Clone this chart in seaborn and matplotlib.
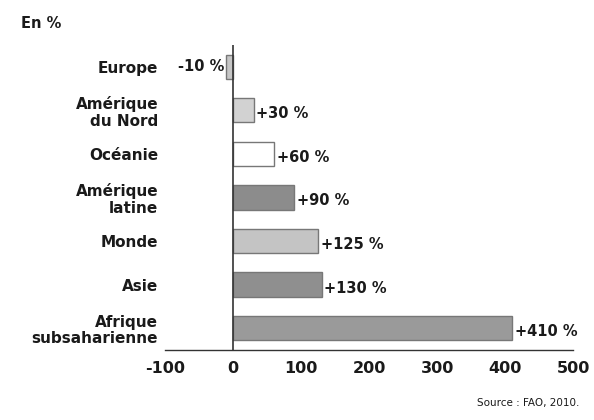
import numpy as np
import pandas as pd
import matplotlib
matplotlib.use("Agg")
import matplotlib.pyplot as plt
import seaborn as sns

regions = ["Europe", "Amérique\ndu Nord", "Océanie", "Amérique\nlatine",
           "Monde", "Asie", "Afrique\nsubsaharienne"]
values = [-10, 30, 60, 90, 125, 130, 410]
labels = ["-10 %", "+30 %", "+60 %", "+90 %", "+125 %", "+130 %", "+410 %"]
colors = ["#c6c6c6", "#d2d2d2", "#ffffff", "#8c8c8c", "#c4c4c4", "#8f8f8f", "#9a9a9a"]
xticks = [-100, 0, 100, 200, 300, 400, 500]

df = pd.DataFrame({"region": regions, "value": values})

sns.set_style("white")
plt.rcParams["font.family"] = ["DejaVu Sans"]
plt.rcParams["text.color"] = "#1a1a1a"

fig = plt.figure(figsize=(5.94, 4.2), dpi=100)
ax = fig.add_axes([0.278, 0.167, 0.687, 0.726])

sns.barplot(data=df, x="value", y="region", hue="region", palette=dict(zip(regions, colors)),
            orient="h", width=0.56, legend=False, ax=ax, edgecolor="#777777", linewidth=1.0)

ax.set_xlim(-100, 500)
ax.set_ylim(6.5, -0.5)
ax.set_xticks(xticks)
ax.set_xticklabels([str(t) for t in xticks], fontsize=11.5, fontweight="bold", color="#1a1a1a")
ax.set_xlabel("")
ax.set_ylabel("")

for side in ["top", "right", "left"]:
    ax.spines[side].set_visible(False)
ax.spines["bottom"].set_color("#333333")
ax.spines["bottom"].set_linewidth(1.0)
ax.axvline(0, color="#333333", lw=1.2)
ax.tick_params(axis="x", direction="in", length=5, color="#333333", pad=8)
ax.tick_params(axis="y", length=0, pad=5)
for t in ax.get_yticklabels():
    t.set_fontweight("bold")
    t.set_fontsize(11)
    t.set_color("#1a1a1a")
    t.set_linespacing(1.15)

for i, (v, lab) in enumerate(zip(values, labels)):
    if v < 0:
        ax.text(v - 3, i, lab, ha="right", va="center", fontsize=10.5, fontweight="bold")
    else:
        ax.text(v + 4, i + 0.08, lab, ha="left", va="center", fontsize=10.5, fontweight="bold")

fig.text(0.035, 0.945, "En %", fontsize=10.5, fontweight="bold", ha="left", va="center")
fig.text(0.975, 0.04, "Source : FAO, 2010.", fontsize=7.5, ha="right", va="center")

fig.savefig("out.png", dpi=100)
